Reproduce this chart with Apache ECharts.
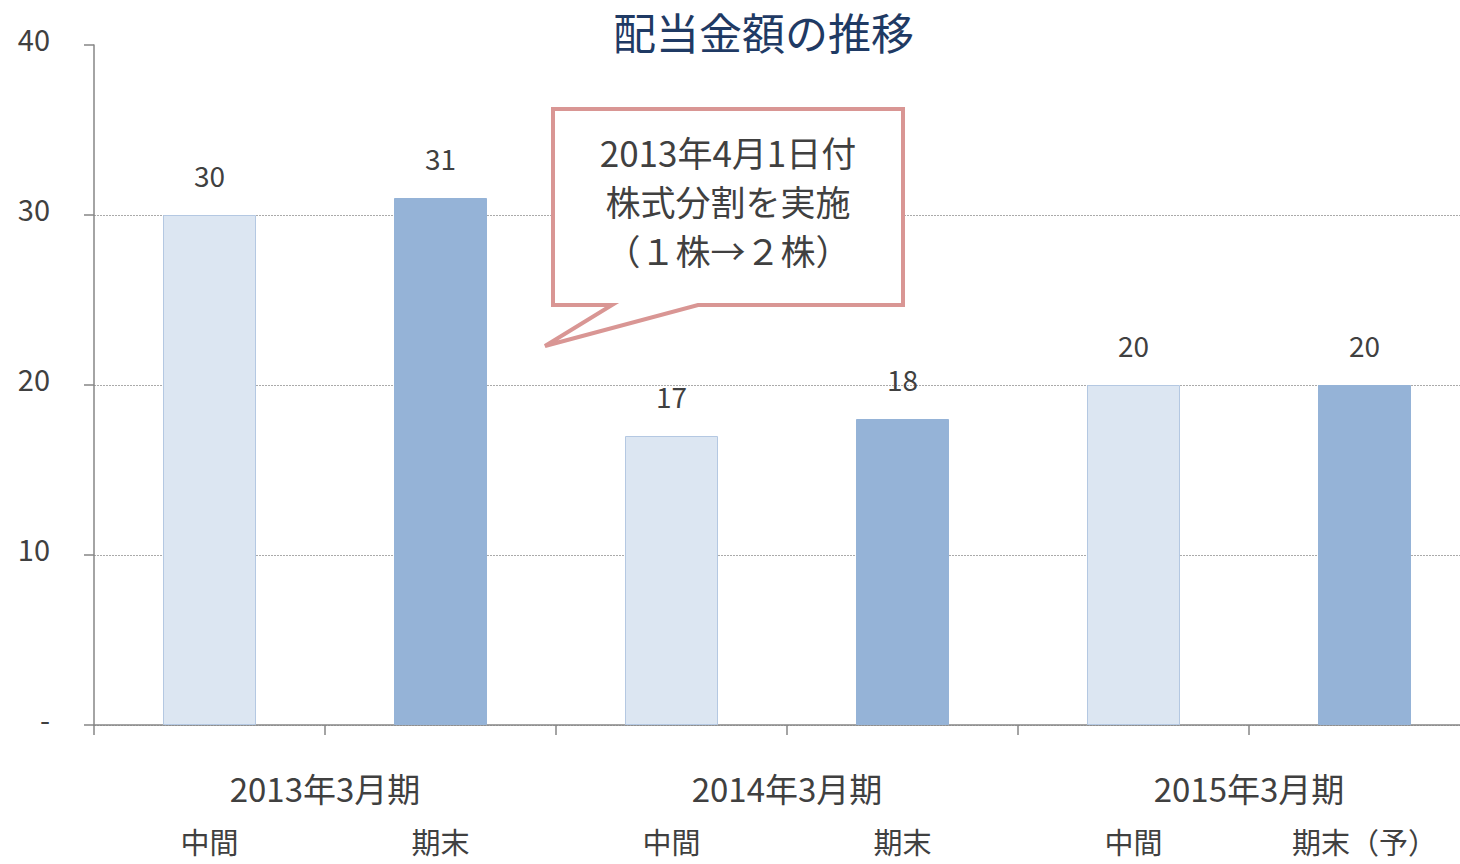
<!DOCTYPE html>
<html>
<head>
<meta charset="utf-8">
<script src="https://cdn.jsdelivr.net/npm/echarts@6/dist/echarts.min.js"></script>
<style>
html,body{margin:0;padding:0;background:#fff;}
#chart{width:1460px;height:864px;}
</style>
</head>
<body>
<div id="chart"></div>
<script>
// ---- data ----
var titleText = '配当金額の推移';
var categories = ['中間', '期末', '中間', '期末', '中間', '期末（予）'];
var periodGroups = ['2013年3月期', '2014年3月期', '2015年3月期'];
var dividends = [30, 31, 17, 18, 20, 20];
var yMin = 0, yMax = 40, yStep = 10;
var noteLines = ['2013年4月1日付', '株式分割を実施', '（１株→２株）'];

// ---- styles ----
var FONT = '"Noto Sans CJK JP", "Noto Sans", sans-serif';
var TEXT = '#404040';
var AXIS = '#868686';
var lightFill = '#dce6f2', lightBorder = '#b4c8e2';
var darkFill = '#95b3d7';

var chart = echarts.init(document.getElementById('chart'), null, {renderer: 'svg'});

var barData = dividends.map(function (v, i) {
  var light = i % 2 === 0;
  return {
    value: v,
    itemStyle: {
      color: light ? lightFill : darkFill,
      borderColor: light ? lightBorder : darkFill,
      borderWidth: 1
    }
  };
});

var option = {
  backgroundColor: '#fff',
  animation: false,
  textStyle: {fontFamily: FONT},
  title: {
    text: titleText,
    left: 608,
    top: 4,
    textStyle: {fontFamily: FONT, fontSize: 43, fontWeight: 'normal', color: '#1f3a64'}
  },
  grid: {left: 94, width: 1386, top: 45, bottom: 139, containLabel: false, outerBoundsMode: 'none'},
  xAxis: [
    {
      type: 'category',
      data: categories,
      position: 'bottom',
      axisLine: {show: true, lineStyle: {color: AXIS, width: 1.5}},
      axisTick: {show: true, length: 10, lineStyle: {color: AXIS, width: 1.5}},
      axisLabel: {fontFamily: FONT, fontSize: 29, color: TEXT, margin: 101}
    },
    {
      type: 'category',
      data: periodGroups,
      position: 'bottom',
      offset: 0,
      axisLine: {show: false},
      axisTick: {show: false},
      splitLine: {show: false},
      axisLabel: {fontFamily: FONT, fontSize: 33, color: TEXT, margin: 46}
    }
  ],
  yAxis: {
    type: 'value',
    min: yMin,
    max: yMax,
    interval: yStep,
    axisLine: {show: true, lineStyle: {color: AXIS, width: 1.5}},
    axisTick: {show: true, length: 10, inside: false, lineStyle: {color: AXIS, width: 1.5}},
    splitLine: {show: true, showMaxLine: false, lineStyle: {color: '#aaaaaa', type: [2, 1], width: 1}},
    axisLabel: {
      fontFamily: FONT, fontSize: 29, color: TEXT, margin: 44,
      formatter: function (v) { return '{n|' + (v === 0 ? '-' : String(v)) + '}'; },
      rich: {n: {fontFamily: FONT, fontSize: 29, color: TEXT, padding: [0, 0, 14, 0]}}
    }
  },
  series: [{
    type: 'bar',
    xAxisIndex: 0,
    yAxisIndex: 0,
    barWidth: 93,
    data: barData,
    label: {
      show: true,
      position: 'top',
      distance: 26,
      fontFamily: FONT,
      fontSize: 28,
      color: TEXT
    }
  }],
  graphic: [
    {
      type: 'polygon',
      z: 100,
      shape: {points: [[553, 109], [903, 109], [903, 305], [698, 305], [545, 346], [612, 305], [553, 305]]},
      style: {fill: '#ffffff', stroke: '#d99694', lineWidth: 4, lineJoin: 'miter'}
    }
  ].concat(noteLines.map(function (t, i) {
    return {
      type: 'text',
      z: 101,
      x: 728,
      y: 151 + i * 49,
      style: {
        text: t,
        fontFamily: FONT,
        fontSize: 35,
        fill: TEXT,
        align: 'center',
        verticalAlign: 'middle'
      }
    };
  }))
};

chart.setOption(option);
</script>
</body>
</html>
